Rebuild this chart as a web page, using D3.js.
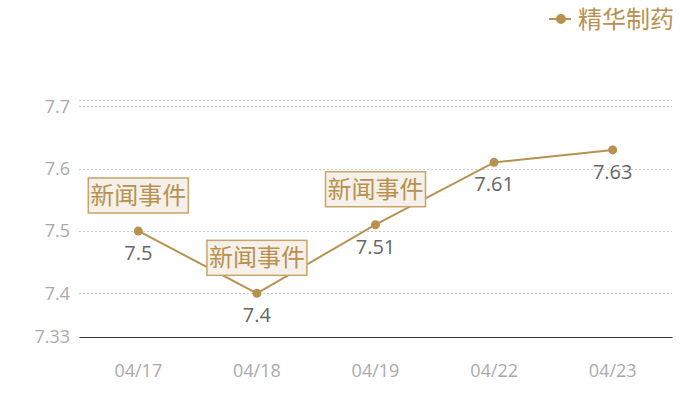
<!DOCTYPE html>
<html>
<head>
<meta charset="utf-8">
<script src="https://cdn.jsdelivr.net/npm/d3@7"></script>
<style>
  body { margin: 0; background: #fff; }
  text { font-family: "Open Sans", "Noto Sans CJK SC", sans-serif; }
  .cjk { font-family: "Noto Sans CJK SC", sans-serif; }
</style>
</head>
<body>
<div id="chart"></div>
<script>
const dates = ['04/17', '04/18', '04/19', '04/22', '04/23'];
const prices = [7.5, 7.4, 7.51, 7.61, 7.63];
const yTicks = [7.33, 7.4, 7.5, 7.6, 7.7];
const yTopLine = 7.71;
const eventDates = ['04/17', '04/18', '04/19'];
const eventLabel = '新闻事件';
const seriesName = '精华制药';

const width = 700, height = 400;
const margin = { top: 100, right: 28, bottom: 63, left: 79 };
const gold = '#b8914f';

const svg = d3.select('#chart')
  .append('svg')
  .attr('width', width)
  .attr('height', height);

const x = d3.scaleBand()
  .domain(dates)
  .range([margin.left, width - margin.right]);

const y = d3.scaleLinear()
  .domain([7.33, yTopLine])
  .range([height - margin.bottom, margin.top]);

const cx = d => x(d) + x.bandwidth() / 2;

// 網格線
svg.append('g')
  .selectAll('line')
  .data(yTicks.slice(1).concat([yTopLine]))
  .join('line')
  .attr('x1', margin.left)
  .attr('x2', width - margin.right)
  .attr('y1', d => Math.round(y(d)) + 0.5)
  .attr('y2', d => Math.round(y(d)) + 0.5)
  .attr('stroke', '#cccccc')
  .attr('stroke-dasharray', '2,2');

// y 軸
const yAxis = svg.append('g')
  .attr('transform', `translate(${margin.left},0)`)
  .call(d3.axisLeft(y).tickValues(yTicks).tickSize(0).tickPadding(9).tickFormat(d => d));
yAxis.select('.domain').remove();
yAxis.selectAll('text')
  .attr('fill', '#aaaaaa')
  .style('font-size', '18px');

// x 軸
const xAxis = svg.append('g')
  .attr('transform', `translate(0,${height - margin.bottom})`)
  .call(d3.axisBottom(x).tickSize(0).tickPadding(27));
xAxis.select('.domain')
  .attr('stroke', '#333333')
  .attr('stroke-width', 1.2);
xAxis.selectAll('text')
  .attr('fill', '#aaaaaa')
  .style('font-size', '18px');

// 折線
const line = d3.line()
  .x((d, i) => cx(dates[i]))
  .y(d => y(d));

svg.append('path')
  .datum(prices)
  .attr('d', line)
  .attr('fill', 'none')
  .attr('stroke', gold)
  .attr('stroke-width', 2);

svg.append('g')
  .selectAll('circle')
  .data(prices)
  .join('circle')
  .attr('cx', (d, i) => cx(dates[i]))
  .attr('cy', d => y(d))
  .attr('r', 4.5)
  .attr('fill', gold);

// 數值標籤
svg.append('g')
  .selectAll('text')
  .data(prices)
  .join('text')
  .attr('x', (d, i) => cx(dates[i]))
  .attr('y', d => y(d) + 29)
  .attr('text-anchor', 'middle')
  .attr('fill', '#666666')
  .style('font-size', '20px')
  .text(d => d);

// 事件標註
const ev = svg.append('g')
  .selectAll('g')
  .data(eventDates)
  .join('g')
  .attr('transform', d => `translate(${cx(d)},${y(prices[dates.indexOf(d)]) - 18})`);

ev.append('rect')
  .attr('x', -50)
  .attr('y', -35)
  .attr('width', 100)
  .attr('height', 35)
  .attr('fill', '#f5f0ea')
  .attr('stroke', '#c9a46a')
  .attr('stroke-width', 1.5);

ev.append('text')
  .attr('class', 'cjk')
  .attr('x', 0)
  .attr('y', -9)
  .attr('text-anchor', 'middle')
  .attr('fill', gold)
  .style('font-size', '24px')
  .text(eventLabel);

// 圖例
const legend = svg.append('g').attr('transform', 'translate(549,19)');
legend.append('line')
  .attr('x1', 0).attr('x2', 22)
  .attr('stroke', gold).attr('stroke-width', 2);
legend.append('circle')
  .attr('cx', 12).attr('r', 5)
  .attr('fill', gold);
legend.append('text')
  .attr('class', 'cjk')
  .attr('x', 29)
  .attr('y', 9)
  .attr('fill', gold)
  .style('font-size', '24px')
  .text(seriesName);
</script>
</body>
</html>
